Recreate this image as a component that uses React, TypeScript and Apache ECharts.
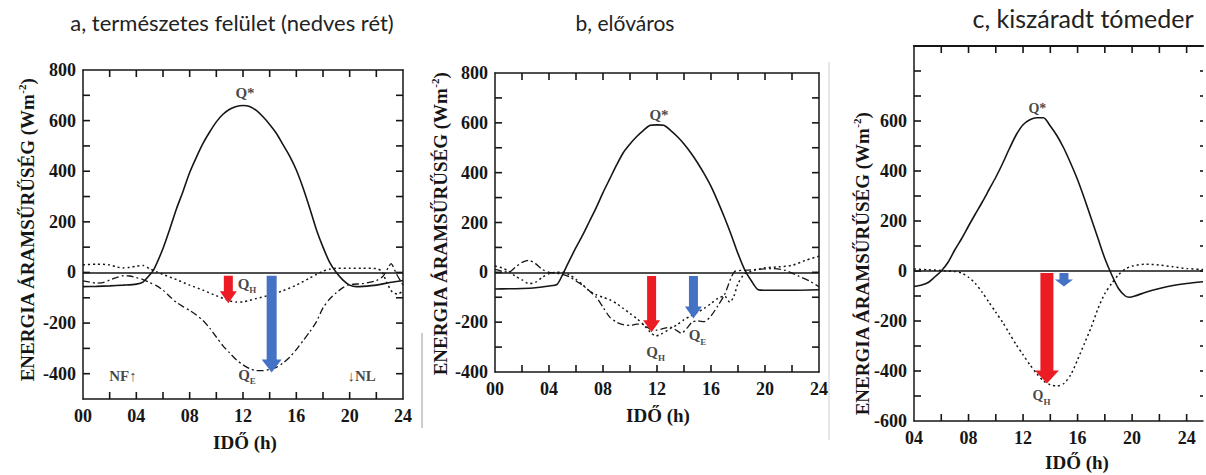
import React, { useEffect, useRef } from 'react';
import * as echarts from 'echarts';

// ---------- Panel a: természetes felület (nedves rét) ----------
const qStarA: number[][] = [
  [0, -56], [1, -55], [2, -53], [3, -50], [4, -46], [4.5, -38], [5, -10], [5.3, 10], [6, 95], [6.5, 170],
  [7, 250], [7.5, 320], [8, 395], [8.5, 455], [9, 510], [9.5, 555], [10, 595], [10.5, 625], [11, 645],
  [11.5, 656], [12, 660], [12.5, 656], [13, 640], [13.5, 615], [14, 585], [14.5, 550], [15, 505],
  [15.5, 460], [16, 405], [16.5, 335], [17, 255], [17.5, 170], [18, 100], [18.5, 40], [19, 0],
  [19.5, -30], [20, -50], [20.5, -56], [21, -55], [22, -50], [23, -40], [24, -32],
];
const qHA: number[][] = [
  [0, 30], [1, 33], [2, 30], [2.5, 22], [3, 18], [3.5, 20], [4, 25], [4.5, 28], [5, 15], [5.5, 3],
  [6, -8], [7, -28], [8, -50], [9, -70], [10, -92], [11, -112], [11.5, -117], [12, -116], [12.5, -110],
  [13, -103], [14, -90], [15, -72], [16, -50], [17, -22], [17.5, -8], [18, 5], [18.5, 13], [19, 17],
  [20, 17], [21, 17], [22, 15], [22.4, 5], [22.8, -42], [23.2, -78], [23.6, -85], [24, -74],
];
const qEA: number[][] = [
  [0, -33], [0.5, -38], [1, -42], [1.5, -40], [2, -30], [2.5, -20], [3, -13], [3.5, -14], [4, -20],
  [4.5, -28], [5, -40], [5.5, -52], [6, -70], [6.5, -95], [7, -118], [7.5, -135], [8, -150], [8.5, -168],
  [9, -190], [9.5, -220], [10, -255], [10.5, -290], [11, -318], [11.5, -345], [12, -365], [12.5, -380],
  [13, -388], [13.5, -388], [14, -383], [14.5, -375], [15, -358], [15.5, -335], [16, -305], [16.5, -270],
  [17, -235], [17.5, -195], [18, -140], [18.5, -105], [19, -80], [19.5, -60], [20, -48], [21, -44],
  [22, -32], [22.5, -15], [22.9, 20], [23.1, 35], [23.5, -5], [24, -50],
];
const redArrowA: number[][] = [[10.9, -13, -122]];
const blueArrowA: number[][] = [[14.15, -13, -395]];
const labelsA: [string, number, number][] = [
  ['Q*', 12.15, 709], ['Q|H', 12.3, -45], ['Q|E', 12.3, -405], ['NF↑', 3.0, -410], ['↓NL', 20.9, -410],
];
const ticksXA = [2, 4, 6, 8, 10, 12, 14, 16, 18, 20, 22];
const ticksYA = [-400, -300, -200, -100, 0, 100, 200, 300, 400, 500, 600, 700];

// ---------- Panel b: előváros ----------
const qStarB: number[][] = [
  [0, -67], [1, -66], [2, -65], [3, -62], [4, -55], [4.6, -48], [5, -10], [5.4, 35], [6, 100], [6.5, 150],
  [7, 205], [7.5, 260], [8, 320], [8.5, 375], [9, 430], [9.5, 480], [10, 515], [10.5, 545], [11, 570],
  [11.5, 590], [12, 592], [12.5, 590], [13, 570], [13.5, 545], [14, 515], [14.5, 480], [15, 440],
  [15.5, 395], [16, 345], [16.5, 285], [17, 220], [17.5, 150], [18, 75], [18.5, 10], [19, -35],
  [19.5, -70], [20, -72], [22, -72], [24, -70],
];
const qHB: number[][] = [
  [0, 25], [0.5, 18], [1, 5], [1.5, -15], [2, -30], [2.5, -45], [3, -40], [3.5, -20], [4, -5], [4.5, 0],
  [5, 0], [5.5, -10], [6, -28], [6.5, -50], [7, -75], [7.5, -90], [8, -100], [8.5, -110], [9, -125],
  [9.5, -145], [10, -165], [10.5, -185], [11, -210], [11.5, -240], [11.9, -255], [12.3, -248], [13, -225],
  [13.5, -210], [14, -190], [14.5, -175], [15, -160], [15.5, -145], [16, -125], [16.5, -105], [17, -95],
  [17.4, -120], [17.7, -95], [18, -45], [18.5, -5], [19, 5], [20, 18], [21, 22], [22, 28], [23, 48], [24, 65],
];
const qEB: number[][] = [
  [0, 12], [0.5, 5], [1, 0], [1.5, 20], [2, 40], [2.5, 48], [3, 35], [3.5, 12], [4, 0], [4.5, -3],
  [5, -8], [5.5, -18], [6, -35], [6.5, -52], [7, -75], [7.5, -100], [8, -140], [8.5, -180], [9, -200],
  [9.5, -210], [10, -213], [10.5, -208], [11, -210], [11.5, -228], [12, -232], [12.5, -225], [13, -220],
  [13.5, -235], [13.8, -245], [14.2, -225], [14.6, -200], [15, -195], [15.5, -198], [16, -175],
  [16.5, -135], [17, -90], [17.5, -20], [17.8, 5], [18.5, 8], [19.5, 12], [20.5, 15], [21.5, 8],
  [22.5, -15], [23.3, -35], [24, -58],
];
const redArrowB: number[][] = [[11.6, -15, -240]];
const blueArrowB: number[][] = [[14.7, -15, -185]];
const labelsB: [string, number, number][] = [
  ['Q*', 12.15, 631], ['Q|H', 11.9, -319], ['Q|E', 15.0, -252],
];
const ticksXB = [2, 4, 6, 8, 10, 12, 14, 16, 18, 20, 22];
const ticksYB = [-300, -200, -100, 0, 100, 200, 300, 400, 500, 600, 700];

// ---------- Panel c: kiszáradt tómeder ----------
const qStarC: number[][] = [
  [4, -62], [4.5, -57], [5, -47], [5.5, -25], [6, 0], [6.5, 35], [7, 85], [7.5, 130], [8, 180],
  [8.5, 228], [9, 275], [9.5, 325], [10, 375], [10.5, 430], [11, 490], [11.5, 545], [12, 585],
  [12.5, 605], [13, 613], [13.5, 613], [14, 580], [14.5, 540], [15, 490], [15.5, 430], [16, 365],
  [16.5, 290], [17, 210], [17.5, 130], [18, 50], [18.5, -15], [19, -70], [19.5, -100], [19.8, -105],
  [20.2, -100], [21, -85], [22, -70], [23, -58], [24, -50], [25.2, -43],
];
const qHC: number[][] = [
  [4, 8], [5, 5], [6, 2], [7, -2], [7.5, -8], [8, -25], [8.5, -50], [9, -85], [9.5, -125], [10, -165],
  [10.5, -205], [11, -250], [11.5, -295], [12, -335], [12.5, -375], [13, -410], [13.5, -440], [14, -455],
  [14.5, -460], [15, -450], [15.5, -415], [16, -355], [16.5, -290], [17, -225], [17.5, -150], [18, -90],
  [18.5, -50], [19, -15], [19.5, 8], [20, 20], [21, 27], [22, 24], [23, 17], [24, 10], [25.2, 6],
];
const redArrowC: number[][] = [[13.75, -8, -450]];
const blueArrowC: number[][] = [[15.0, -8, -62]];
const labelsC: [string, number, number][] = [
  ['Q*', 13.05, 652], ['Q|H', 13.35, -496],
];
const ticksXC = [6, 8, 10, 12, 14, 16, 18, 20, 22, 24];
const ticksYC = [-500, -400, -300, -200, -100, 0, 100, 200, 300, 400, 500, 600, 700, 800];

// ---------- texts ----------
const panelTitles = ['a, természetes felület (nedves rét)', 'b, előváros', 'c, kiszáradt tómeder'];
const yTitle = 'ENERGIA ÁRAMSŰRŰSÉG (Wm';
const xTitle = 'IDŐ (h)';

const SERIF = "'Liberation Serif', 'Times New Roman', serif";
const SANS = "Lato, 'Open Sans', sans-serif";
const INK = '#161616';
const RED = '#ec1c24';
const BLUE = '#4472c4';

type Panel = {
  grid: { left: number; top: number; width: number; height: number };
  xMin: number; xMax: number; yMin: number; yMax: number; yLabelMax: number;
  qStar: number[][]; qH: number[][]; qE?: number[][];
  red: number[][]; blue: number[][]; labels: [string, number, number][];
  ticksX: number[]; ticksY: number[];
  redSize: [number, number, number]; blueSize: [number, number, number];
  labelFont: number; topWidth: number; rightLine: boolean;
};

const panels: Panel[] = [
  {
    grid: { left: 83, top: 70, width: 320, height: 329 }, xMin: 0, xMax: 24, yMin: -500, yMax: 800, yLabelMax: 800,
    qStar: qStarA, qH: qHA, qE: qEA, red: redArrowA, blue: blueArrowA, labels: labelsA,
    ticksX: ticksXA, ticksY: ticksYA,
    redSize: [9, 17, 12], blueSize: [10, 20, 13], labelFont: 15, topWidth: 1.5, rightLine: true,
  },
  {
    grid: { left: 495, top: 73, width: 324, height: 299 }, xMin: 0, xMax: 24, yMin: -400, yMax: 800, yLabelMax: 800,
    qStar: qStarB, qH: qHB, qE: qEB, red: redArrowB, blue: blueArrowB, labels: labelsB,
    ticksX: ticksXB, ticksY: ticksYB,
    redSize: [9, 17, 12], blueSize: [9, 17, 12], labelFont: 15, topWidth: 1.5, rightLine: true,
  },
  {
    grid: { left: 914, top: 46, width: 291, height: 375 }, xMin: 4, xMax: 25.2, yMin: -600, yMax: 900, yLabelMax: 600,
    qStar: qStarC, qH: qHC, red: redArrowC, blue: blueArrowC, labels: labelsC,
    ticksX: ticksXC, ticksY: ticksYC,
    redSize: [13, 24, 13], blueSize: [9, 18, 7], labelFont: 14, topWidth: 2.2, rightLine: false,
  },
];

const tickRich = { t: { fontFamily: SERIF, fontWeight: 'bold', fontSize: 18, color: INK } };

function arrowRenderer(size: [number, number, number], color: string) {
  const [shaft, head, headLen] = size;
  return (_params: any, api: any) => {
    const x = api.value(0);
    const p0 = api.coord([x, api.value(1)]);
    const p1 = api.coord([x, api.value(2)]);
    const cx = p0[0];
    const top = p0[1];
    const tip = p1[1];
    const hl = Math.min(headLen, (tip - top) * 0.55);
    const hb = tip - hl;
    return {
      type: 'polygon',
      shape: {
        points: [
          [cx - shaft / 2, top], [cx - shaft / 2, hb], [cx - head / 2, hb], [cx, tip],
          [cx + head / 2, hb], [cx + shaft / 2, hb], [cx + shaft / 2, top],
        ],
      },
      style: { fill: color },
    };
  };
}

// one inward tick mark as a thin polygon; dx/dy give the inward direction from the edge point
function tickRenderer(dx: number, dy: number, len: number) {
  return (_params: any, api: any) => {
    const pt = api.coord([api.value(0), api.value(1)]);
    const w = 0.8;
    const ex = pt[0] + dx * len;
    const ey = pt[1] + dy * len;
    const points = dx === 0
      ? [[pt[0] - w, pt[1]], [pt[0] + w, pt[1]], [ex + w, ey], [ex - w, ey]]
      : [[pt[0], pt[1] - w], [pt[0], pt[1] + w], [ex, ey + w], [ex, ey - w]];
    return { type: 'polygon', shape: { points }, style: { fill: INK } };
  };
}

function buildOption() {
  const grids: any[] = [];
  const xAxes: any[] = [];
  const yAxes: any[] = [];
  const series: any[] = [];

  panels.forEach((p, i) => {
    grids.push({ ...p.grid });
    const fmtX = (v: number) => (Math.abs(v % 4) < 1e-6 ? `{t|${String(v).padStart(2, '0')}}` : '');
    const fmtY = (v: number) => (v % 200 === 0 && v <= p.yLabelMax ? `{t|${v}}` : '');
    const baseX = (pos: 'bottom' | 'top', show: boolean, width: number) => ({
      type: 'value', gridIndex: i, min: p.xMin, max: p.xMax, interval: 2, position: pos,
      axisLine: { show: true, onZero: false, lineStyle: { color: INK, width } },
      axisTick: { show: false },
      axisLabel: { show, formatter: fmtX, margin: 8, rich: tickRich },
      splitLine: { show: false },
    });
    const baseY = (pos: 'left' | 'right', show: boolean, lineShow: boolean) => ({
      type: 'value', gridIndex: i, min: p.yMin, max: p.yMax, interval: 100, position: pos,
      axisLine: { show: lineShow, onZero: false, lineStyle: { color: INK, width: 1.5 } },
      axisTick: { show: false },
      axisLabel: { show, formatter: fmtY, margin: 7, rich: tickRich },
      splitLine: { show: false },
    });
    xAxes.push(baseX('bottom', true, 1.5), baseX('top', false, p.topWidth));
    yAxes.push(baseY('left', true, true), baseY('right', false, p.rightLine));

    const xi = 2 * i;
    const yi = 2 * i;
    const tickSeries = (data: number[][], dx: number, dy: number, len: number) => ({
      type: 'custom', xAxisIndex: xi, yAxisIndex: yi, data, renderItem: tickRenderer(dx, dy, len), z: 5,
    });
    series.push(tickSeries(p.ticksX.map((v) => [v, p.yMin]), 0, -1, 7));
    series.push(tickSeries(p.ticksX.map((v) => [v, p.yMax]), 0, 1, 7));
    series.push(tickSeries(p.ticksY.map((v) => [p.xMin, v]), 1, 0, 7));
    series.push(tickSeries(p.ticksY.map((v) => [p.xMax, v]), -1, 0, p.rightLine ? 7 : 3));

    series.push({
      type: 'line', xAxisIndex: xi, yAxisIndex: yi, data: p.qStar, symbol: 'none', smooth: 0.25,
      lineStyle: { color: INK, width: 1.6 }, z: 3,
      markLine: {
        silent: true, symbol: ['none', 'none'], label: { show: false },
        lineStyle: { color: INK, width: 1.6, type: 'solid' }, data: [{ yAxis: 0 }],
      },
    });
    series.push({
      type: 'line', xAxisIndex: xi, yAxisIndex: yi, data: p.qH, symbol: 'none', smooth: 0.25,
      lineStyle: { color: INK, width: 1.5, type: [2, 3] }, z: 3,
    });
    if (p.qE) {
      series.push({
        type: 'line', xAxisIndex: xi, yAxisIndex: yi, data: p.qE, symbol: 'none', smooth: 0.25,
        lineStyle: { color: INK, width: 1.3, type: [7, 3, 2, 3] }, z: 3,
      });
    }
    series.push({
      type: 'custom', xAxisIndex: xi, yAxisIndex: yi, data: p.red, renderItem: arrowRenderer(p.redSize, RED), z: 5,
    });
    series.push({
      type: 'custom', xAxisIndex: xi, yAxisIndex: yi, data: p.blue, renderItem: arrowRenderer(p.blueSize, BLUE), z: 5,
    });
    series.push({
      type: 'scatter', xAxisIndex: xi, yAxisIndex: yi, symbolSize: 0, z: 6, silent: true,
      data: p.labels.map(([t, x, y]) => ({ name: t, value: [x, y] })),
      label: {
        show: true, position: 'inside',
        formatter: (d: any) => {
          const [main, sub] = String(d.name).split('|');
          return sub ? `{q|${main}}{s|${sub}}` : `{q|${main}}`;
        },
        rich: {
          q: { fontFamily: SERIF, fontWeight: 'bold', fontSize: p.labelFont, color: INK, lineHeight: 22 },
          s: { fontFamily: SERIF, fontWeight: 'bold', fontSize: 9, color: INK, lineHeight: 10, verticalAlign: 'bottom' },
        },
      },
    });
  });

  const yTitlePos = [[27, 230], [440, 224], [862, 264]];
  const xTitlePos = [[245, 442], [658, 415], [1077, 462]];
  const titlePos = [[232, 22, 22], [625, 22, 21], [1083, 18, 25]];

  const graphic: any[] = [];
  panelTitles.forEach((t, i) => {
    graphic.push({
      type: 'text', x: titlePos[i][0], y: titlePos[i][1],
      style: {
        text: `{t|${t}}`, align: 'center', verticalAlign: 'middle',
        rich: { t: { fontFamily: SANS, fontSize: titlePos[i][2], fill: '#222' } },
      },
    });
    graphic.push({
      type: 'text', x: yTitlePos[i][0], y: yTitlePos[i][1], rotation: Math.PI / 2,
      style: {
        text: `{m|${yTitle}}{s|-2}{m|)}`, align: 'center', verticalAlign: 'middle',
        rich: {
          m: { fontFamily: SERIF, fontWeight: 'bold', fontSize: 19, fill: INK, lineHeight: 22 },
          s: { fontFamily: SERIF, fontWeight: 'bold', fontSize: 11, fill: INK, lineHeight: 12, verticalAlign: 'top' },
        },
      },
    });
    graphic.push({
      type: 'text', x: xTitlePos[i][0], y: xTitlePos[i][1],
      style: {
        text: `{t|${xTitle}}`, align: 'center', verticalAlign: 'middle',
        rich: { t: { fontFamily: SERIF, fontWeight: 'bold', fontSize: 19, fill: INK } },
      },
    });
  });
  graphic.push({ type: 'line', shape: { x1: 829, y1: 62, x2: 829, y2: 440 }, style: { stroke: '#cfcfcf', lineWidth: 1 } });
  graphic.push({ type: 'line', shape: { x1: 422, y1: 333, x2: 422, y2: 428 }, style: { stroke: '#9a9a9a', lineWidth: 1 } });

  return {
    animation: false,
    grid: grids,
    xAxis: xAxes,
    yAxis: yAxes,
    series,
    graphic,
  };
}

export default function App() {
  const ref = useRef<HTMLDivElement>(null);
  useEffect(() => {
    document.body.style.margin = '0';
    const chart = echarts.init(ref.current!, null, { renderer: 'svg' });
    chart.setOption(buildOption() as any);
    return () => chart.dispose();
  }, []);
  return (
    <div
      ref={ref}
      style={{ width: 1206, height: 475, position: 'absolute', left: 0, top: 0, background: '#fff' }}
    />
  );
}
